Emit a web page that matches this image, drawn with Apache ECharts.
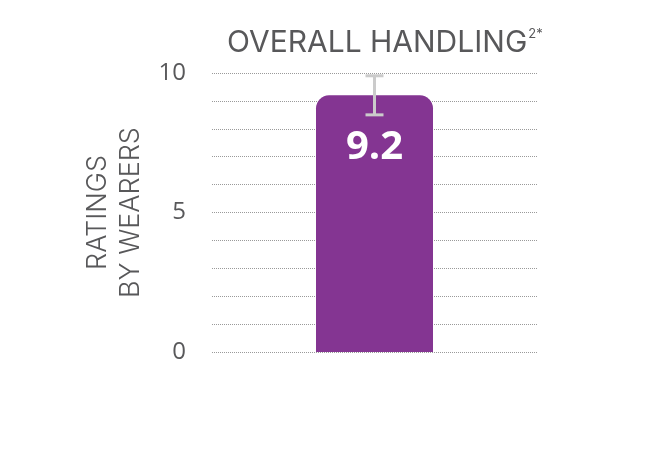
<!DOCTYPE html>
<html>
<head>
<meta charset="utf-8">
<script src="https://cdn.jsdelivr.net/npm/echarts@6/dist/echarts.min.js"></script>
<style>
html,body{margin:0;padding:0;background:#fff}
#main{width:670px;height:455px}
</style>
</head>
<body>
<div id="main"></div>
<script>
// data
var categories = ['Overall handling']
var ratings = [9.2]
var errLow = [8.5]
var errHigh = [9.9]
var yTicks = [0, 5, 10]

var chart = echarts.init(document.getElementById('main'))
var fam = 'Open Sans'
var headFam = 'Inter'

var option = {
	animation: false,
	title: {
		text: '{t|OVERALL HANDLING}{s|2*}',
		left: 222,
		top: 23,
		textStyle: {
			rich: {
				t: {fontFamily: headFam, fontSize: 30, color: '#58585a', fontWeight: 'normal'},
				s: {fontFamily: headFam, fontSize: 13, color: '#58585a', fontWeight: 'normal', verticalAlign: 'top', padding: [0, 0, 15, 1]}
			}
		}
	},
	grid: {left: 212, right: 133, top: 73, bottom: 103},
	xAxis: {
		type: 'category',
		data: categories,
		axisLine: {show: false},
		axisTick: {show: false},
		axisLabel: {show: false}
	},
	yAxis: {
		type: 'value',
		min: 0,
		max: 10,
		interval: 1,
		name: 'RATINGS\nBY WEARERS',
		nameLocation: 'middle',
		nameRotate: 90,
		nameGap: 65,
		nameTextStyle: {fontFamily: headFam, fontSize: 27, fontWeight: 300, color: '#58585a', lineHeight: 33},
		axisLine: {show: false},
		axisTick: {show: false},
		axisLabel: {
			fontFamily: fam,
			fontSize: 24,
			color: '#58585a',
			margin: 26,
			formatter: function (v) {
				return yTicks.indexOf(v) >= 0 ? String(v) : ''
			}
		},
		splitLine: {lineStyle: {color: '#9a9a9a', type: [1, 1], width: 1}}
	},
	series: [
		{
			type: 'bar',
			data: ratings,
			barWidth: '36%',
			itemStyle: {color: '#843592', borderRadius: [13, 13, 0, 0]},
			label: {
				show: true,
				position: 'insideTop',
				distance: 32,
				color: '#fff',
				fontFamily: fam,
				fontWeight: 'bold',
				fontSize: 40
			}
		},
		{
			type: 'custom',
			z: 5,
			data: categories.map(function (c, i) { return [i, errLow[i], errHigh[i]] }),
			renderItem: function (params, api) {
				var lo = api.coord([api.value(0), api.value(1)])
				var hi = api.coord([api.value(0), api.value(2)])
				var hw = 9
				var st = {stroke: '#cbcbcb', lineWidth: 3}
				return {
					type: 'group',
					children: [
						{type: 'line', shape: {x1: lo[0], y1: lo[1], x2: hi[0], y2: hi[1]}, style: st},
						{type: 'line', shape: {x1: lo[0] - hw, y1: lo[1], x2: lo[0] + hw, y2: lo[1]}, style: st},
						{type: 'line', shape: {x1: hi[0] - hw, y1: hi[1], x2: hi[0] + hw, y2: hi[1]}, style: st}
					]
				}
			}
		}
	]
}
chart.setOption(option)
</script>
</body>
</html>
